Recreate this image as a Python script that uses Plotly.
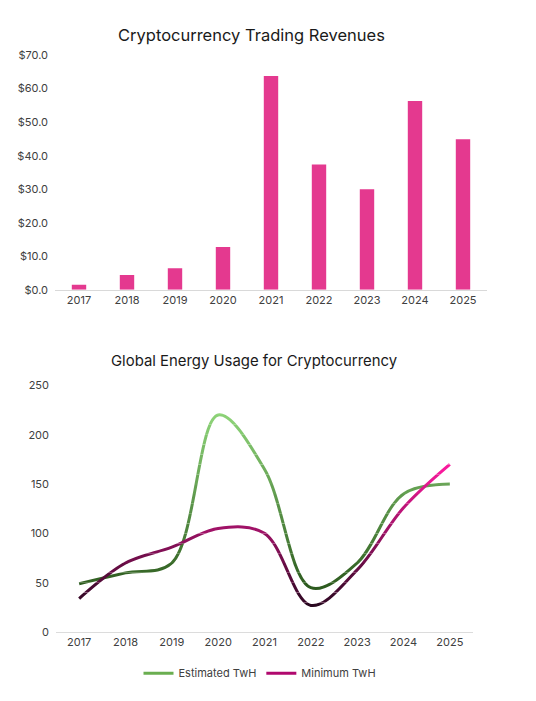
import plotly.graph_objects as go

years = ['2017', '2018', '2019', '2020', '2021', '2022', '2023', '2024', '2025']
revenue = [1.5, 4.4, 6.4, 12.8, 63.8, 37.4, 30.0, 56.3, 44.9]
estimated_twh = [49, 60, 70, 220, 165, 45, 70, 140, 150]
minimum_twh = [34, 70, 86, 105, 100, 27, 63, 126, 170]

# the page has an 8px body margin, so the figure is a bit smaller than the window
OX, OY = 8, 8
FW, FH = 520, 680


def px(x):
    return (x - OX) / FW


def py(y):
    return 1 - (y - OY) / FH


def mix(c1, c2, t):
    t = max(0.0, min(1.0, t))
    a = [int(c1[i:i + 2], 16) for i in (1, 3, 5)]
    b = [int(c2[i:i + 2], 16) for i in (1, 3, 5)]
    return '#%02x%02x%02x' % tuple(round(a[i] + (b[i] - a[i]) * t) for i in range(3))


font = 'Inter'
tick_font = dict(family=font, size=11, color='#404040')

fig = go.Figure()

# top: revenue bars
fig.add_trace(go.Bar(
    x=years, y=revenue, width=0.3,
    marker=dict(color='#E4398F', line_width=0),
    xaxis='x', yaxis='y', showlegend=False,
))

# bottom: energy lines, drawn in horizontal bands to get the vertical colour fade
series = [
    ('Estimated TwH', estimated_twh, '#2c5a1e', '#8fd67a', '#6aae50', 43, 223),
    ('Minimum TwH', minimum_twh, '#2a0820', '#ff1aa0', '#b0086e', 25, 170),
]
y_lo, y_hi = py(639), py(386.7)
n_bands = 25
band_axes = {}
for k in range(n_bands):
    band_axes['yaxis%d' % (k + 3)] = dict(
        domain=[y_lo + (y_hi - y_lo) * k / n_bands, y_lo + (y_hi - y_lo) * (k + 1) / n_bands],
        range=[250 * k / n_bands, 250 * (k + 1) / n_bands],
        visible=False, anchor='x2', fixedrange=True,
    )

for label, vals, dark, light, legend_col, vmin, vmax in series:
    # plain trace on the real axis, gives the legend entry
    fig.add_trace(go.Scatter(
        x=years, y=vals, name=label, mode='lines',
        line=dict(color=legend_col, width=3, shape='spline', smoothing=1.0),
        xaxis='x2', yaxis='y2',
    ))
    for k in range(n_bands):
        mid = 250 * (k + 0.5) / n_bands
        fig.add_trace(go.Scatter(
            x=years, y=vals, mode='lines', showlegend=False, hoverinfo='skip',
            line=dict(color=mix(dark, light, (mid - vmin) / (vmax - vmin)),
                      width=3, shape='spline', smoothing=1.0),
            xaxis='x2', yaxis='y%d' % (k + 3),
        ))

fig.update_layout(
    width=FW, height=FH,
    margin=dict(l=0, r=0, t=0, b=0),
    plot_bgcolor='white', paper_bgcolor='white',
    font=dict(family=font),
    xaxis=dict(domain=[px(55), px(487)], range=[-0.5, 8.5], showgrid=False,
               showline=True, linecolor='#D9D9D9', linewidth=1, ticks='',
               tickfont=tick_font, anchor='y', fixedrange=True),
    yaxis=dict(domain=[py(289), py(49)], range=[0, 70], dtick=10,
               tickformat='$.1f', showgrid=False, zeroline=False, ticks='',
               tickfont=tick_font, anchor='x', ticklabelstandoff=6),
    xaxis2=dict(domain=[px(56), px(473)], range=[-0.5, 8.5], showgrid=False,
                showline=True, linecolor='#D9D9D9', linewidth=1, ticks='',
                tickfont=tick_font, anchor='y2'),
    yaxis2=dict(domain=[y_lo, y_hi], range=[0, 250], dtick=50,
                showgrid=False, zeroline=False, ticks='',
                tickfont=tick_font, anchor='x2', ticklabelstandoff=6),
    legend=dict(orientation='h', x=px(260), xanchor='center', y=py(681),
                yanchor='middle', font=dict(family=font, size=11, color='#404040'),
                itemwidth=30, traceorder='normal'),
    annotations=[
        dict(text='Cryptocurrency Trading Revenues', x=px(251), y=py(28),
             xref='paper', yref='paper', showarrow=False, yanchor='middle',
             font=dict(family=font, size=16.5, color='#1a1a1a')),
        dict(text='Global Energy Usage for Cryptocurrency', x=px(254), y=py(362),
             xref='paper', yref='paper', showarrow=False, yanchor='middle',
             font=dict(family=font, size=14.9, color='#1a1a1a')),
    ],
    **band_axes,
)

fig.write_html('out.html')
